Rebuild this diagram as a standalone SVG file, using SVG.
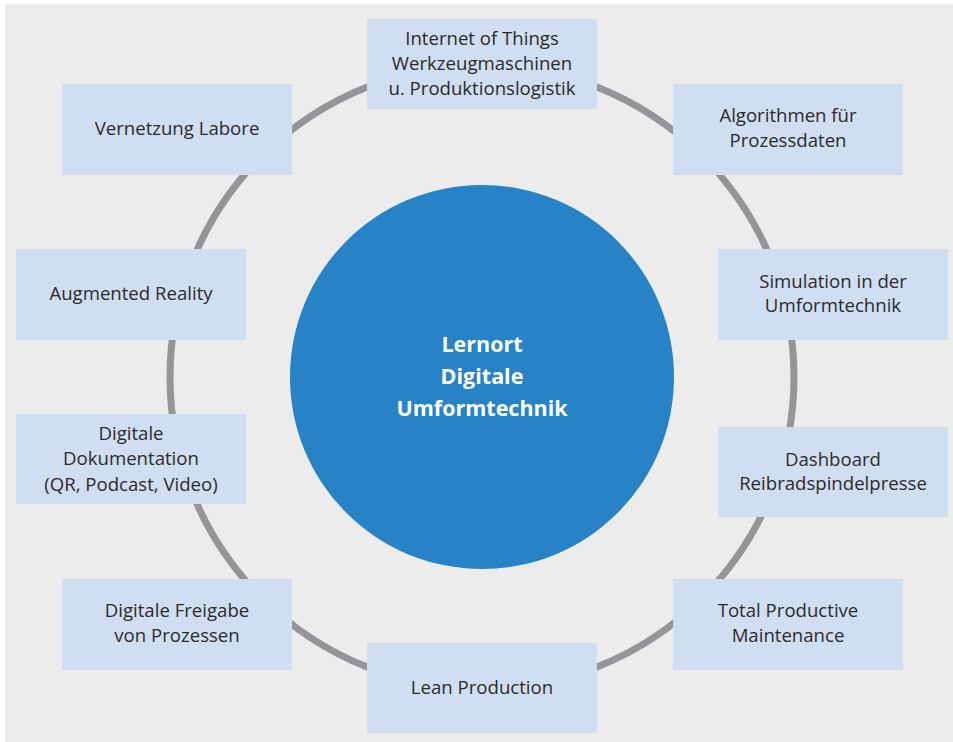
<svg xmlns="http://www.w3.org/2000/svg" width="953" height="742" viewBox="0 0 953 742">
<style>
.box{fill:#d0def1}
.t{font-family:"Open Sans","Liberation Sans",sans-serif;font-size:18.6px;fill:#2b2b2b;text-anchor:middle}
.c{font-family:"Open Sans","Liberation Sans",sans-serif;font-size:21.5px;font-weight:bold;fill:#ffffff;text-anchor:middle}
</style>
<rect x="0" y="0" width="953" height="742" fill="#ffffff"/>
<rect x="5" y="4" width="948" height="738" fill="#ececec"/>
<g id="connectors">
<circle cx="482" cy="377" r="312" fill="none" stroke="#939598" stroke-width="7"/>
</g>
<g id="center">
<circle cx="482" cy="377" r="192" fill="#2882c6"/>
<text class="c" x="482" y="352">Lernort</text>
<text class="c" x="482" y="384">Digitale</text>
<text class="c" x="482" y="416">Umformtechnik</text>
</g>
<g id="iot">
<rect class="box" x="367" y="19" width="230" height="90"/>
<text class="t" x="482" y="45">Internet of Things</text>
<text class="t" x="482" y="70">Werkzeugmaschinen</text>
<text class="t" x="482" y="95">u. Produktionslogistik</text>
</g>
<g id="vernetzung">
<rect class="box" x="62" y="84" width="230" height="91"/>
<text class="t" x="177" y="135">Vernetzung Labore</text>
</g>
<g id="algorithmen">
<rect class="box" x="673" y="84" width="230" height="91"/>
<text class="t" x="788" y="122">Algorithmen für</text>
<text class="t" x="788" y="147">Prozessdaten</text>
</g>
<g id="augmented">
<rect class="box" x="16" y="249" width="230" height="91"/>
<text class="t" x="131" y="300">Augmented Reality</text>
</g>
<g id="simulation">
<rect class="box" x="718" y="249" width="230" height="91"/>
<text class="t" x="833" y="288">Simulation in der</text>
<text class="t" x="833" y="312">Umformtechnik</text>
</g>
<g id="dokumentation">
<rect class="box" x="16" y="414" width="230" height="90"/>
<text class="t" x="131" y="440">Digitale</text>
<text class="t" x="131" y="465">Dokumentation</text>
<text class="t" x="131" y="491">(QR, Podcast, Video)</text>
</g>
<g id="dashboard">
<rect class="box" x="718" y="427" width="230" height="90"/>
<text class="t" x="833" y="466">Dashboard</text>
<text class="t" x="833" y="490">Reibradspindelpresse</text>
</g>
<g id="freigabe">
<rect class="box" x="62" y="579" width="230" height="91"/>
<text class="t" x="177" y="617">Digitale Freigabe</text>
<text class="t" x="177" y="642">von Prozessen</text>
</g>
<g id="tpm">
<rect class="box" x="673" y="579" width="230" height="91"/>
<text class="t" x="788" y="617">Total Productive</text>
<text class="t" x="788" y="642">Maintenance</text>
</g>
<g id="lean">
<rect class="box" x="367" y="643" width="230" height="90"/>
<text class="t" x="482" y="694">Lean Production</text>
</g>
</svg>
